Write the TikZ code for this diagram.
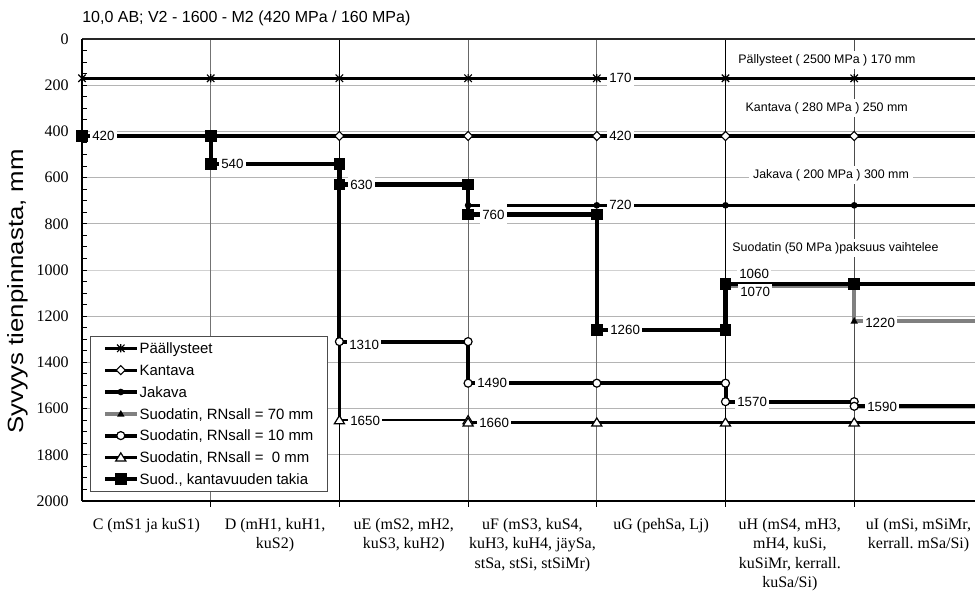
\documentclass[tikz,border=0pt]{standalone}
\usepackage{fontspec}
\usepackage{graphicx}
\setmainfont{Liberation Serif}
\newfontfamily\arial{Liberation Sans}
\definecolor{gridc}{HTML}{B4B4B4}
\definecolor{greyser}{HTML}{808080}
\tikzset{
 mstar/.pic={\draw[line width=0.85pt] (-2.8pt,-2.8pt)--(2.8pt,2.8pt) (-2.8pt,2.8pt)--(2.8pt,-2.8pt) (0,-3.1pt)--(0,3.1pt);},
 mdiam/.pic={\draw[line width=0.8pt,fill=white] (-3.4pt,0)--(0,3.4pt)--(3.4pt,0)--(0,-3.4pt)--cycle;},
 mdot/.pic={\fill (0,0) circle (2.5pt);},
 mtri/.pic={\fill (-2.8pt,-2.1pt)--(2.8pt,-2.1pt)--(0,2.8pt)--cycle;},
 mcirc/.pic={\draw[line width=0.9pt,fill=white] (0,0) circle (3pt);},
 motri/.pic={\draw[line width=0.9pt,fill=white] (-3.8pt,-2.7pt)--(3.8pt,-2.7pt)--(0,3.4pt)--cycle;},
 msq/.pic={\fill (-4.4pt,-4.4pt) rectangle (4.4pt,4.4pt);},
 dlab/.style={font=\arial\fontsize{10}{12}\selectfont, fill=white, inner xsep=1.5pt, inner ysep=2.4pt, anchor=west},
 ann/.style={font=\arial\fontsize{9.3}{11}\selectfont, fill=white, inner xsep=3pt, inner ysep=2.6pt, anchor=base},
 ytick/.style={font=\fontsize{12}{14}\selectfont, anchor=east, inner sep=0pt},
 catlab/.style={font=\fontsize{12}{14.5}\selectfont, align=center, anchor=north, inner sep=0pt},
 legtxt/.style={font=\arial\fontsize{11.2}{13}\selectfont, anchor=base west, inner sep=0pt},
}
\begin{document}
\frenchspacing
\begin{tikzpicture}[x=0.75pt,y=-0.75pt]
\useasboundingbox (0,0) rectangle (975,597);
\fill[white] (0,0) rectangle (975,597);

\begin{scope}[shift={(82,39)},x=96.525pt,y=-0.17325pt]
 \def\R{6.9386}
 % horizontal grid
 \foreach \v in {200,400,600,800,1200,1400,1600,1800} \draw[gridc,line width=0.75pt] (0,\v)--(\R,\v);
 \draw[black!18,line width=0.75pt] (0,1000)--(\R,1000);
 % vertical category lines
 \draw[black!55,line width=0.75pt] (1,0)--(1,2000);
 \draw[black,line width=0.75pt] (2,0)--(2,2000);
 \draw[black!60,line width=0.75pt] (3,0)--(3,2000);
 \draw[black!55,line width=0.75pt] (4,0)--(4,2000);
 \draw[black,line width=0.75pt] (5,0)--(5,2000);
 \draw[black!70,line width=0.75pt] (6,0)--(6,2000);
 % ticks
 \foreach \i in {1,...,6} \draw[line width=0.75pt] (\i,2000)--++(0pt,-4.5pt);
 \foreach \v in {50,100,...,1950} \draw[line width=0.75pt] (0,\v)--++(3.75pt,0pt);
 % frame
 \draw[black!85,line width=1.5pt] (0,0)--(\R,0);
 \draw[line width=1.6pt] (0,2000)--(\R,2000);
 \draw[line width=1.5pt] (0,0)--(0,2000);

 % series lines
 \draw[line width=2.3pt] (0,170)--(\R,170);
 \draw[line width=2.3pt] (0,420)--(\R,420);
 \draw[line width=2pt] (3,720)--(\R,720);
 \draw[greyser,line width=3pt] (5,1260)--(5,1070)--(6,1070)--(6,1220)--(\R,1220);
 \draw[line width=3pt] (2,630)--(2,1310)--(3,1310)--(3,1490)--(5,1490)--(5,1570)--(6,1570)--(6,1590)--(\R,1590);
 \draw[line width=2pt] (2,1320)--(2,1650)--(3,1650)--(3,1660)--(\R,1660);
 \draw[line width=3.2pt] (0,420)--(1,420)--(1,540)--(2,540)--(2,630)--(3,630)--(3,760)--(4,760)--(4,1260)--(5,1260)--(5,1060)--(\R,1060);

 % markers
 \foreach \i in {0,...,6} \pic at (\i,170) {mstar};
 \foreach \i in {0,...,6} \pic at (\i,420) {mdiam};
 \foreach \i in {3,...,6} \pic at (\i,720) {mdot};
 \pic at (6,1220) {mtri};
 \foreach \p in {(2,1310),(3,1310),(3,1490),(4,1490),(5,1490),(5,1570),(6,1570),(6,1590)} \pic at \p {mcirc};
 \foreach \p in {(2,1650),(3,1650),(3,1660),(4,1660),(5,1660),(6,1660)} \pic at \p {motri};
 \foreach \p in {(0,420),(1,420),(1,540),(2,540),(2,630),(3,630),(3,760),(4,760),(4,1260),(5,1260),(5,1060),(6,1060)} \pic at \p {msq};
\end{scope}

% legend
\draw[black!70,line width=0.75pt,fill=white] (90.7,336) rectangle (327.3,491);
\draw[line width=2.3pt] (105,348.3)--(136.7,348.3); \pic at (120.8,348.3) {mstar};
\node[legtxt] (lg1) at (139.3,353.6) {Päällysteet};
\draw[line width=2.3pt] (105,370.1)--(136.7,370.1); \pic at (120.8,370.1) {mdiam};
\node[legtxt] (lg2) at (139.3,375.4) {Kantava};
\draw[line width=2.3pt] (105,392)--(136.7,392); \pic at (120.8,392) {mdot};
\node[legtxt] (lg3) at (139.3,397.3) {Jakava};
\draw[greyser,line width=3pt] (105,413.8)--(136.7,413.8); \pic at (120.8,413.8) {mtri};
\node[legtxt] (lg4) at (139.3,419.1) {Suodatin, RNsall = 70 mm};
\draw[line width=3pt] (105,435.6)--(136.7,435.6); \pic at (120.8,435.6) {mcirc};
\node[legtxt] (lg5) at (139.3,440.9) {Suodatin, RNsall = 10 mm};
\draw[line width=2pt] (105,457.4)--(136.7,457.4); \pic at (120.8,457.4) {motri};
\node[legtxt] (lg6) at (139.3,462.7) {Suodatin, RNsall = \ 0 mm};
\draw[line width=3.2pt] (105,479.3)--(136.7,479.3); \pic at (120.8,479.3) {msq};
\node[legtxt] (lg7) at (139.3,484.6) {Suod., kantavuuden takia};

% data labels
\node[dlab] (d420a) at (90,136) {420};
\node[dlab] (d540) at (219,163.7) {540};
\node[dlab] (d630) at (348,184.5) {630};
\node[dlab,inner ysep=5.5pt] (d760) at (480,215) {760};
\node[dlab] (d170) at (607,78.3) {170};
\node[dlab] (d420b) at (607,136) {420};
\node[dlab] (d720) at (607,205.3) {720};
\node[dlab] (d1310) at (347,345) {1310};
\node[dlab] (d1490) at (475,383.2) {1490};
\node[dlab] (d1650) at (348,420.7) {1650};
\node[dlab] (d1660) at (477,422.5) {1660};
\node[dlab] (d1260) at (608,330) {1260};
\node[dlab] (d1060) at (737,274) {1060};
\node[dlab] (d1070) at (738,292) {1070};
\node[dlab] (d1220) at (863,323) {1220};
\node[dlab] (d1570) at (735,402) {1570};
\node[dlab] (d1590) at (865,407) {1590};

% annotations
\node[ann] (a1) at (827,63.4) {Pällysteet ( 2500 MPa ) 170 mm};
\node[ann] (a2) at (826.7,111.4) {Kantava ( 280 MPa ) 250 mm};
\node[ann] (a3) at (831,178.4) {Jakava ( 200 MPa ) 300 mm};
\node[ann] (a4) at (835.5,251.4) {Suodatin (50 MPa )paksuus vaihtelee};

% y tick labels
\foreach \v in {0,200,...,2000} \node[ytick] (yt\v) at (69,{39+0.231*\v}) {\v};

% title and axis title
\node[font=\arial\fontsize{12}{14}\selectfont, anchor=base west, inner sep=0pt] (title) at (82,22.7) {10,0 AB; V2 - 1600 - M2 (420 MPa / 160 MPa)};
\node[font=\arial\fontsize{16.5}{18}\selectfont, rotate=90, anchor=base, inner sep=0pt] (ytitle) at (23,291.5) {\scalebox{1.17}[1]{Syvyys tienpinnasta, mm}};

% category labels
\node[catlab] (cat1) at (146.35,518) {C (mS1 ja kuS1)};
\node[catlab] (cat2) at (275.05,518) {D (mH1, kuH1,\\kuS2)};
\node[catlab] (cat3) at (403.75,518) {uE (mS2, mH2,\\kuS3, kuH2)};
\node[catlab] (cat4) at (532.45,518) {uF (mS3, kuS4,\\kuH3, kuH4, jäySa,\\stSa, stSi, stSiMr)};
\node[catlab] (cat5) at (661.15,518) {uG (pehSa, Lj)};
\node[catlab] (cat6) at (789.85,518) {uH (mS4, mH3,\\mH4, kuSi,\\kuSiMr, kerrall.\\kuSa/Si)};
\node[catlab] (cat7) at (918.55,518) {uI (mSi, mSiMr,\\kerrall. mSa/Si)};
\end{tikzpicture}
\end{document}
